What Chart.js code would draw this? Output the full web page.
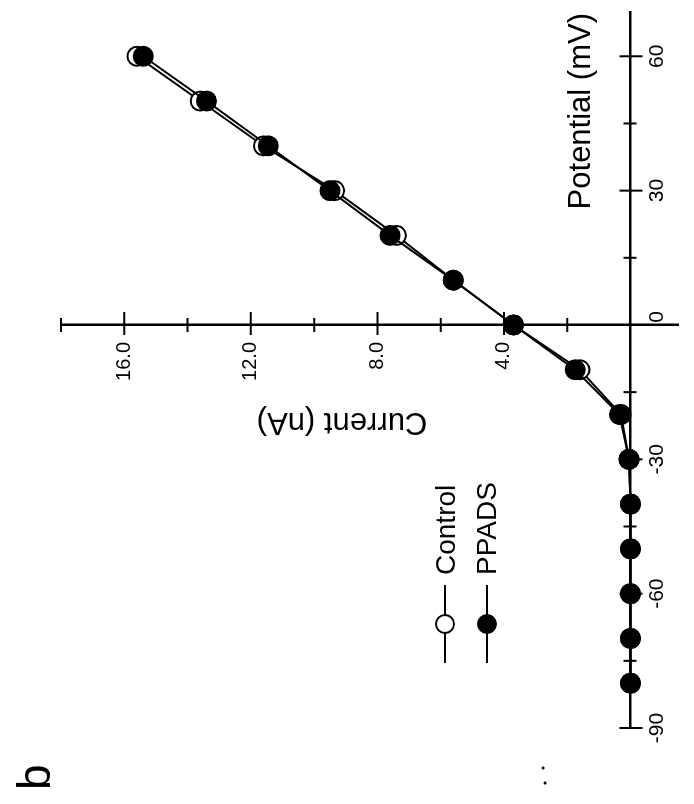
<!DOCTYPE html>
<html>
<head>
<meta charset="utf-8">
<script src="https://cdn.jsdelivr.net/npm/chart.js@4.4.0/dist/chart.umd.min.js"></script>
<style>
  html, body { margin: 0; padding: 0; background: #fff; overflow: hidden; }
  /* the figure is printed sideways, so the whole chart is turned a quarter left */
  #wrap { position: absolute; left: 0; top: 0; width: 804px; height: 694px;
          transform-origin: 0 0; transform: translate(0, 804px) rotate(-90deg); }
</style>
</head>
<body>
<div id="wrap"><canvas id="iv" width="804" height="694"></canvas></div>
<script>
'use strict';
const potentials = [-80, -70, -60, -50, -40, -30, -20, -10, 0, 10, 20, 30, 40, 50, 60];
const control = [0, 0, 0, 0, 0, 0.05, 0.3, 1.6, 3.7, 5.6, 7.4, 9.35, 11.6, 13.6, 15.6];
const ppads = [0, 0, 0, 0, 0, 0.05, 0.35, 1.75, 3.7, 5.6, 7.6, 9.5, 11.45, 13.4, 15.4];

const potentialTicks = [-90, -60, -30, 0, 30, 60];
const potentialMinor = [-75, -45, -15, 15, 45];
const currentTicks = [4, 8, 12, 16];
const currentMinor = [2, 6, 10, 14, 18];

const FONT = "'Liberation Sans', Arial, Helvetica, sans-serif";
Chart.defaults.font.family = FONT;
Chart.defaults.color = '#000';

const toPoints = (ys) => potentials.map((p, i) => ({x: p, y: ys[i]}));

// axes cross in the middle, ticks stick out both sides -> drawn by hand from the scales
const axisMarks = {
  id: 'axisMarks',
  beforeDatasetsDraw(chart) {
    const {ctx, scales: {x, y}} = chart;
    const y0 = y.getPixelForValue(0);
    const x0 = x.getPixelForValue(0);
    ctx.save();
    ctx.strokeStyle = '#000';
    ctx.lineWidth = 2;
    ctx.beginPath();
    potentialTicks.forEach(v => {
      const px = x.getPixelForValue(v);
      ctx.moveTo(px, y0 - 11); ctx.lineTo(px, y0 + 12);
    });
    potentialMinor.forEach(v => {
      const px = x.getPixelForValue(v);
      ctx.moveTo(px, y0 - 7); ctx.lineTo(px, y0 + 6);
    });
    currentTicks.forEach(v => {
      const py = y.getPixelForValue(v);
      ctx.moveTo(x0 - 10, py); ctx.lineTo(x0 + 13, py);
    });
    currentMinor.forEach(v => {
      const py = y.getPixelForValue(v);
      ctx.moveTo(x0 - 7, py); ctx.lineTo(x0 + 7, py);
    });
    ctx.stroke();

    // tick labels
    ctx.fillStyle = '#000';
    ctx.font = '21px ' + FONT;
    ctx.textAlign = 'center';
    ctx.textBaseline = 'middle';
    potentialTicks.forEach(v => {
      const px = x.getPixelForValue(v) + (v === 0 ? 8 : 0);
      ctx.fillText(String(v), px, y0 + 27);
    });
    ctx.font = '20px ' + FONT;
    ctx.textAlign = 'right';
    currentTicks.forEach(v => {
      ctx.fillText(v.toFixed(1), x0 - 17, y.getPixelForValue(v));
    });
    ctx.restore();
  },
  afterDraw(chart) {
    const {ctx} = chart;
    ctx.save();
    ctx.fillStyle = '#000';
    ctx.strokeStyle = '#000';

    // panel letter
    ctx.font = '46px ' + FONT;
    ctx.textAlign = 'left';
    ctx.textBaseline = 'alphabetic';
    ctx.fillText('b', 14, 50);

    // stray specks on the scan
    ctx.beginPath();
    ctx.arc(21, 545, 1.6, 0, Math.PI * 2);
    ctx.arc(36, 543, 1.6, 0, Math.PI * 2);
    ctx.fill();

    // x title, sits above the axis at the right end
    ctx.font = '31px ' + FONT;
    ctx.textAlign = 'right';
    ctx.fillText('Potential (mV)', 791, 590);

    // y title
    ctx.save();
    ctx.translate(391, 342);
    ctx.rotate(-Math.PI / 2);
    ctx.textAlign = 'center';
    ctx.fillText('Current (nA)', 0, 0);
    ctx.restore();

    // legend
    const rows = [
      {label: 'Control', fill: '#fff', cy: 445, base: 455},
      {label: 'PPADS', fill: '#000', cy: 487, base: 496}
    ];
    ctx.font = '28px ' + FONT;
    ctx.textAlign = 'left';
    ctx.lineWidth = 2;
    rows.forEach(r => {
      ctx.beginPath();
      ctx.moveTo(141, r.cy); ctx.lineTo(219, r.cy);
      ctx.stroke();
      ctx.beginPath();
      ctx.arc(180, r.cy, 9, 0, Math.PI * 2);
      ctx.fillStyle = r.fill;
      ctx.fill();
      ctx.stroke();
      ctx.fillStyle = '#000';
      ctx.fillText(r.label, 229, r.base);
    });
    ctx.restore();
  }
};

new Chart(document.getElementById('iv'), {
  type: 'line',
  data: {
    datasets: [
      {
        label: 'PPADS',
        data: toPoints(ppads),
        order: 0,
        borderColor: '#000',
        borderWidth: 2,
        backgroundColor: '#000',
        pointBackgroundColor: '#000',
        pointBorderColor: '#000',
        pointBorderWidth: 2,
        pointRadius: 9.5,
        tension: 0
      },
      {
        label: 'Control',
        data: toPoints(control),
        order: 1,
        borderColor: '#000',
        borderWidth: 2,
        backgroundColor: '#fff',
        pointBackgroundColor: '#fff',
        pointBorderColor: '#000',
        pointBorderWidth: 2,
        pointRadius: 9.5,
        tension: 0
      }
    ]
  },
  options: {
    responsive: false,
    animation: false,
    events: [],
    layout: {padding: {left: 76, right: 8, top: 61, bottom: 16}},
    plugins: {legend: {display: false}, tooltip: {enabled: false}},
    scales: {
      x: {
        type: 'linear',
        position: {y: 0},
        min: -90,
        max: 70,
        afterBuildTicks: (s) => { s.ticks = potentialTicks.map(v => ({value: v})); },
        grid: {display: false, drawTicks: false},
        border: {display: true, color: '#000', width: 2.5},
        ticks: {display: false}
      },
      y: {
        type: 'linear',
        position: {x: 0},
        min: -1.5,
        max: 18,
        afterBuildTicks: (s) => { s.ticks = currentTicks.map(v => ({value: v})); },
        grid: {display: false, drawTicks: false},
        border: {display: true, color: '#000', width: 2.5},
        ticks: {display: false}
      }
    }
  },
  plugins: [axisMarks]
});
</script>
</body>
</html>
